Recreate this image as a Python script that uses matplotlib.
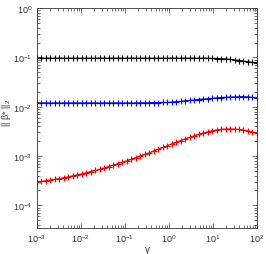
import numpy as np
import matplotlib
matplotlib.use('Agg')
from matplotlib import pyplot as plt

gamma = np.logspace(-3, 2, 50)

beta_black = [0.0964] * 37 + [0.0963, 0.0962, 0.0955, 0.0951, 0.0940, 0.0930, 0.0912,
                              0.0890, 0.0865, 0.0845, 0.0817, 0.0794, 0.0762]

beta_blue = [0.0119] * 23 + [0.0120, 0.0120, 0.0120, 0.0121, 0.0121, 0.0122, 0.0122,
                             0.0124, 0.0126, 0.0128, 0.0131, 0.0134, 0.0137, 0.0140,
                             0.0143, 0.0145, 0.0148, 0.0151, 0.0153, 0.0155, 0.0157,
                             0.0158, 0.0159, 0.0160, 0.0158, 0.0155, 0.0151]

beta_red = [2.96e-4, 3.05e-4, 3.15e-4, 3.25e-4, 3.37e-4, 3.49e-4, 3.63e-4, 3.78e-4,
            3.95e-4, 4.14e-4, 4.35e-4, 4.57e-4, 4.82e-4, 5.09e-4, 5.40e-4, 5.73e-4,
            6.10e-4, 6.50e-4, 6.95e-4, 7.45e-4, 7.98e-4, 8.57e-4, 9.23e-4, 9.95e-4,
            1.074e-3, 1.161e-3, 1.262e-3, 1.371e-3, 1.489e-3, 1.618e-3, 1.754e-3,
            1.901e-3, 2.056e-3, 2.218e-3, 2.388e-3, 2.559e-3, 2.735e-3, 2.911e-3,
            3.083e-3, 3.243e-3, 3.373e-3, 3.467e-3, 3.524e-3, 3.540e-3, 3.516e-3,
            3.459e-3, 3.365e-3, 3.236e-3, 3.076e-3, 2.891e-3]

plt.rcParams['font.family'] = ['Liberation Sans', 'DejaVu Sans']
plt.rcParams['mathtext.fontset'] = 'custom'
plt.rcParams['mathtext.rm'] = 'Liberation Sans'
plt.rcParams['mathtext.it'] = 'Liberation Sans:italic'

fig = plt.figure(figsize=(2.66, 2.55), dpi=100)
ax = fig.add_axes([0.139, 0.103, 0.827, 0.861])

for vals, c in [(beta_black, 'k'), (beta_blue, 'b'), (beta_red, 'r')]:
    ax.plot(gamma, vals, color=c, lw=0.9, marker='+', ms=4, mew=0.8)

ax.set_xscale('log')
ax.set_yscale('log')
ax.set_xlim(1e-3, 1e2)
ax.set_ylim(3.5e-5, 1)
ax.set_xticks([1e-3, 1e-2, 1e-1, 1e0, 1e1, 1e2])
ax.set_yticks([1e-4, 1e-3, 1e-2, 1e-1, 1e0])
ax.tick_params(which='both', direction='in', top=True, right=True, labelsize=6.5,
               colors='#333333', width=0.5)
ax.tick_params(which='major', length=3.5)
ax.tick_params(which='minor', length=2)
for s in ax.spines.values():
    s.set_linewidth(0.6)
    s.set_color('#333333')

ax.set_xlabel('γ', fontsize=7, color='#333333')
ax.set_ylabel('|| β* ||$_2$', fontsize=6.5, color='#333333')
ax.xaxis.set_label_coords(0.5, -0.075)
ax.yaxis.set_label_coords(-0.108, 0.527)

fig.savefig('out.png', dpi=100)
